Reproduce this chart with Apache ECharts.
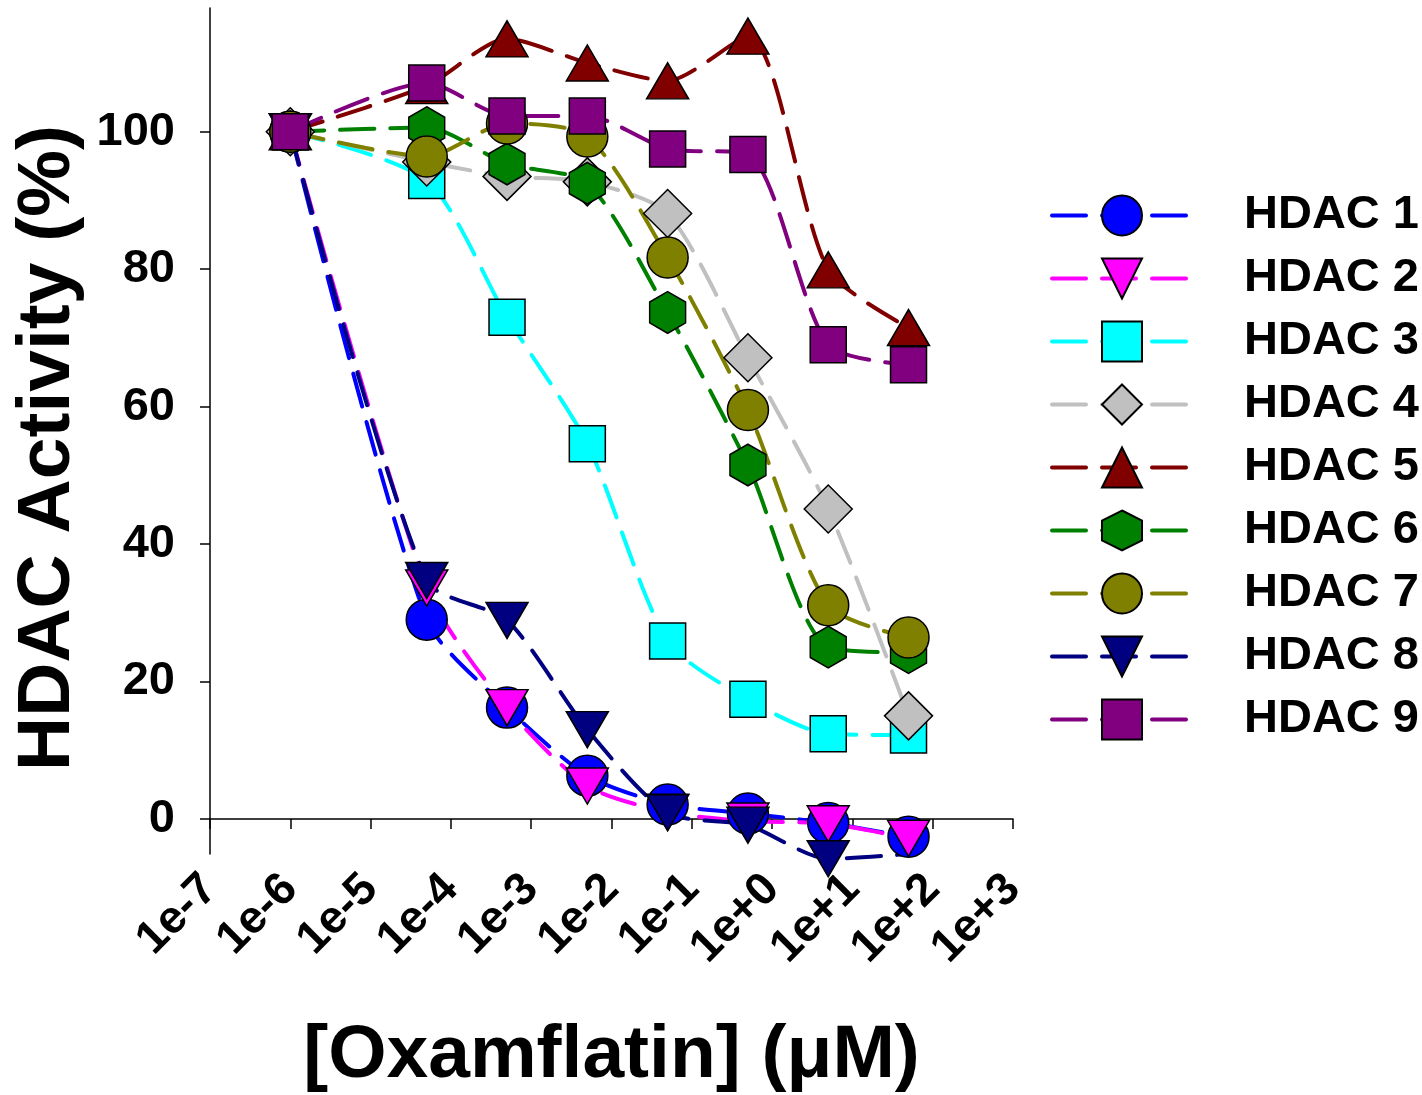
<!DOCTYPE html>
<html>
<head>
<meta charset="utf-8">
<script src="https://cdn.jsdelivr.net/npm/echarts@6/dist/echarts.min.js"></script>
<style>
  html, body { margin: 0; padding: 0; background: #fff; }
  #chart { width: 1422px; height: 1095px; }
</style>
</head>
<body>
<div id="chart"></div>
<script>
// concentrations (uM)
const conc = [1e-6, 5e-5, 5e-4, 5e-3, 5e-2, 0.5, 5, 50];

const hdac1 = [100, 29.0, 16.2, 6.3, 2.1, 0.8, -0.6, -2.6];
const hdac2 = [100, 33.6, 16.2, 4.8, 1.0, -0.3, -0.7, -2.8];
const hdac3 = [100, 92.9, 73.0, 54.6, 25.9, 17.4, 12.4, 12.2];
const hdac4 = [100, 95.6, 93.5, 92.7, 88.1, 67.1, 45.1, 15.0];
const hdac5 = [100, 106.7, 113.5, 110.0, 107.4, 113.9, 79.9, 71.5];
const hdac6 = [100, 100.6, 95.3, 92.5, 73.7, 51.5, 25.0, 24.2];
const hdac7 = [100, 96.4, 101.2, 99.3, 81.7, 59.5, 31.1, 26.4];
const hdac8 = [100, 34.7, 28.9, 13.0, 0.9, -0.9, -5.8, -8.0];
const hdac9 = [100, 107.1, 102.3, 102.3, 97.5, 96.7, 69.0, 66.1];

const names = ['HDAC 1', 'HDAC 2', 'HDAC 3', 'HDAC 4', 'HDAC 5', 'HDAC 6', 'HDAC 7', 'HDAC 8', 'HDAC 9'];
const xTicks = [1e-7, 1e-6, 1e-5, 1e-4, 1e-3, 1e-2, 1e-1, 1e0, 1e1, 1e2, 1e3];
const xTickLabels = ['1e-7', '1e-6', '1e-5', '1e-4', '1e-3', '1e-2', '1e-1', '1e+0', '1e+1', '1e+2', '1e+3'];
const yTicks = [0, 20, 40, 60, 80, 100];

const Y_MIN = -5.1, Y_MAX = 118;
const FONT = "'Liberation Sans', Arial, sans-serif";
const hexagon = 'path://M43.3,0 L86.6,25 L86.6,75 L43.3,100 L0,75 L0,25 Z';
const dash = { width: 4, type: [34, 16], cap: 'round' };

// look of each series (SigmaPlot style)
const looks = [
  { color: '#0000FF', symbol: 'circle', size: 41 },
  { color: '#FF00FF', symbol: 'triangle', size: [42, 36], rotate: 180 },
  { color: '#00FFFF', symbol: 'rect', size: 36 },
  { color: '#C0C0C0', symbol: 'diamond', size: 48 },
  { color: '#800000', symbol: 'triangle', size: [42, 36] },
  { color: '#008000', symbol: hexagon, size: [36, 41.6] },
  { color: '#808000', symbol: 'circle', size: 41 },
  { color: '#000080', symbol: 'triangle', size: [42, 36], rotate: 180 },
  { color: '#800080', symbol: 'rect', size: 36 }
];
const values = [hdac1, hdac2, hdac3, hdac4, hdac5, hdac6, hdac7, hdac8, hdac9];

// points far below the axis are clipped like the original plot (line runs along the axis, no marker)
let toData = (vals) => vals.map((v, i) => {
  if (v < Y_MIN - 1) {
    return { value: [conc[i], Y_MIN], symbol: 'none' };
  }
  return [conc[i], v];
});

let series = values.map((vals, k) => ({
  name: names[k],
  type: 'line',
  data: toData(vals),
  smooth: 0.25,
  clip: false,
  symbol: looks[k].symbol,
  symbolSize: looks[k].size,
  symbolRotate: looks[k].rotate || 0,
  lineStyle: Object.assign({ color: looks[k].color }, dash),
  itemStyle: { color: looks[k].color, borderColor: '#000', borderWidth: 1.5 },
  emphasis: { disabled: true }
}));

let chart = echarts.init(document.getElementById('chart'));
chart.setOption({
  animation: false,
  grid: { left: 210, right: 409, top: 8, bottom: 241, outerBoundsMode: 'none' },
  legend: {
    orient: 'vertical',
    left: 1050,
    top: 192,
    padding: 0,
    itemWidth: 140,
    itemHeight: 50,
    itemGap: 16,
    data: names,
    lineStyle: dash,
    textStyle: { fontFamily: FONT, fontSize: 47, fontWeight: 'bold', color: '#000', padding: [0, 0, 0, 47] }
  },
  xAxis: {
    type: 'log',
    logBase: 10,
    min: 1e-7,
    max: 1e3,
    name: '[Oxamflatin] (\u03bcM)',
    nameLocation: 'middle',
    nameGap: 165,
    nameTextStyle: { fontFamily: FONT, fontSize: 75, fontWeight: 'bold', color: '#000' },
    axisLine: { lineStyle: { color: '#000', width: 1.5 } },
    axisTick: { length: 10, customValues: xTicks, lineStyle: { color: '#000', width: 1.5 } },
    axisLabel: {
      rotate: 45,
      margin: 28,
      customValues: xTicks,
      fontFamily: FONT, fontSize: 46, fontWeight: 'bold', color: '#000',
      formatter: (v) => xTickLabels[Math.round(Math.log10(v)) + 7]
    },
    splitLine: { show: false },
    minorTick: { show: false }
  },
  yAxis: {
    type: 'value',
    min: Y_MIN,
    max: Y_MAX,
    name: 'HDAC Activity (%)',
    nameLocation: 'middle',
    nameRotate: 90,
    nameGap: 120,
    nameTextStyle: { fontFamily: FONT, fontSize: 75, fontWeight: 'bold', color: '#000', padding: [0, 34, 0, 0] },
    axisLine: { show: true, lineStyle: { color: '#000', width: 1.5 } },
    axisTick: { show: true, length: 10, customValues: yTicks, lineStyle: { color: '#000', width: 1.5 } },
    axisLabel: {
      margin: 35,
      customValues: yTicks,
      fontFamily: FONT, fontSize: 47, fontWeight: 'bold', color: '#000'
    },
    splitLine: { show: false }
  },
  series: series
});
</script>
</body>
</html>
